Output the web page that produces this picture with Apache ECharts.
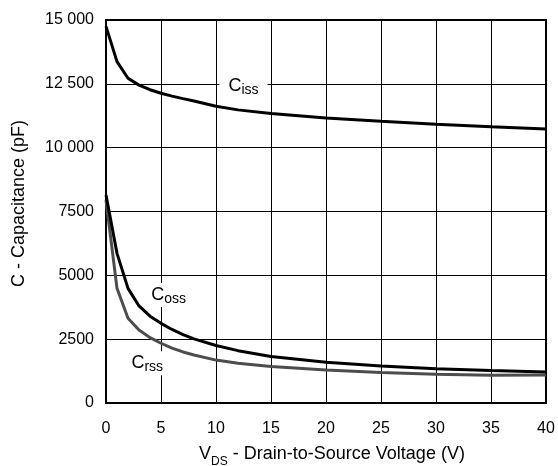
<!DOCTYPE html>
<html><head><meta charset="utf-8">
<script src="https://cdn.jsdelivr.net/npm/echarts@6/dist/echarts.min.js"></script>
<style>html,body{margin:0;padding:0;background:#fff}#c{width:558px;height:466px}</style>
</head><body><div id="c"></div>
<script>
const vds = [0, 1, 2, 3, 4, 5, 6, 7, 8, 10, 12, 15, 20, 25, 30, 35, 40];
const ciss = [14750, 13370, 12720, 12450, 12270, 12130, 12020, 11920, 11830, 11620, 11480, 11340, 11160, 11030, 10920, 10820, 10730];
const coss = [8150, 5860, 4490, 3800, 3400, 3120, 2880, 2680, 2510, 2250, 2050, 1820, 1600, 1450, 1340, 1270, 1210];
const crss = [7950, 4490, 3320, 2860, 2560, 2340, 2150, 2000, 1880, 1680, 1560, 1430, 1290, 1190, 1130, 1090, 1100];
const yTicks = ['0', '2500', '5000', '7500', '10 000', '12 500', '15 000'];
const labelPos = { Ciss: [12.5, 12415], Coss: [5.7, 4230], Crss: [3.75, 1555] };

const F = 'Liberation Sans, Arial, Helvetica, sans-serif';
function pairs(ys) { return vds.map((x, i) => [x, ys[i]]); }
function mk(sub, pos) {
  return {
    symbol: 'circle', symbolSize: 1, silent: true,
    itemStyle: { color: 'rgba(0,0,0,0)' },
    data: [{ coord: pos,
      label: { show: true, position: 'inside', formatter: '{c|C}{s|' + sub + '}',
        backgroundColor: '#fff', padding: [3, 9, 3, 9],
        rich: { c: { fontSize: 18, fontFamily: F, color: '#000', verticalAlign: 'bottom' },
                s: { fontSize: 14, fontFamily: F, color: '#000', verticalAlign: 'bottom', padding: [0, 0, -2, 0] } } } }]
  };
}
const chart = echarts.init(document.getElementById('c'), null, { renderer: 'canvas' });
chart.setOption({
  animation: false,
  backgroundColor: '#fff',
  grid: { left: 106, right: 12, top: 20, bottom: 63, outerBoundsMode: 'none', containLabel: false,
    show: true, borderColor: '#000', borderWidth: 2, backgroundColor: 'transparent' },
  xAxis: {
    type: 'value', min: 0, max: 40, interval: 5,
    name: '{v|V}{d|DS}{n| - Drain-to-Source Voltage (V)}',
    nameLocation: 'middle', nameGap: 42,
    nameTextStyle: { padding: [0, 0, 0, 12], rich: {
      v: { fontSize: 18, fontFamily: F, color: '#000', verticalAlign: 'bottom' },
      d: { fontSize: 12, fontFamily: F, color: '#000', verticalAlign: 'bottom', padding: [0, 0, -5, 0] },
      n: { fontSize: 18, fontFamily: F, color: '#000', verticalAlign: 'bottom' } } },
    axisLine: { lineStyle: { color: '#000', width: 2 } },
    axisTick: { show: false },
    axisLabel: { fontSize: 16, fontFamily: F, color: '#000', margin: 18 },
    splitLine: { show: true, lineStyle: { color: '#000', width: 1 } }
  },
  yAxis: {
    type: 'value', min: 0, max: 15000, interval: 2500,
    name: 'C - Capacitance (pF)', nameLocation: 'middle', nameGap: 78,
    nameTextStyle: { fontSize: 18, fontFamily: F, color: '#000', padding: [0, 0, 0, 16] },
    axisLine: { show: true, lineStyle: { color: '#000', width: 2 } },
    axisTick: { show: false },
    axisLabel: { fontSize: 16, fontFamily: F, color: '#000', margin: 12,
      formatter: (v) => yTicks[Math.round(v / 2500)] },
    splitLine: { show: true, lineStyle: { color: '#000', width: 1 } }
  },
  series: [
    { name: 'Ciss', type: 'line', data: pairs(ciss), showSymbol: false, smooth: false,
      lineStyle: { color: '#000', width: 3 }, markPoint: mk('iss', labelPos.Ciss), z: 3 },
    { name: 'Coss', type: 'line', data: pairs(coss), showSymbol: false, smooth: false,
      lineStyle: { color: '#000', width: 3 }, markPoint: mk('oss', labelPos.Coss), z: 3 },
    { name: 'Crss', type: 'line', data: pairs(crss), showSymbol: false, smooth: false,
      lineStyle: { color: '#4d4d4d', width: 3 }, markPoint: mk('rss', labelPos.Crss), z: 2 }
  ]
});
</script></body></html>
